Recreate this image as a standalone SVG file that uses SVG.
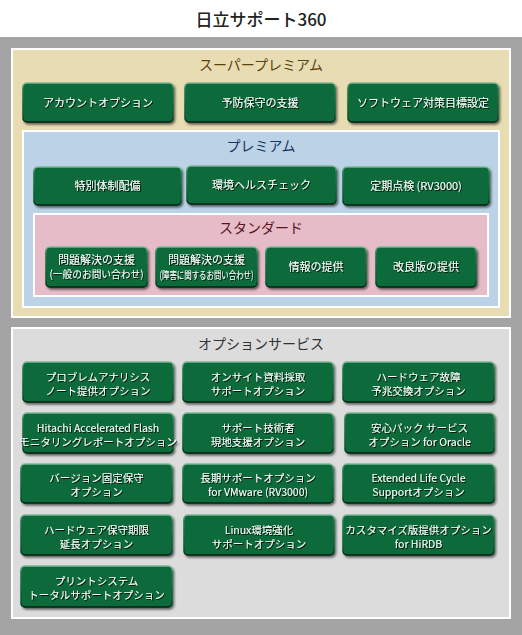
<svg xmlns="http://www.w3.org/2000/svg" width="522" height="635" viewBox="0 0 522 635">
<style>
text{font-family:"Noto Sans CJK JP","Noto Sans",sans-serif}
.title{font-size:17px;fill:#222;text-anchor:middle;font-weight:500}
.sec{font-size:14px;text-anchor:middle}
.btn rect{fill:#0e6b3a;stroke:url(#edge);stroke-width:1.5}
.btn text{font-size:10.5px;fill:#fff;text-anchor:middle;filter:url(#ts)}
.btn text.one{font-size:11px}
.sm{font-size:8.5px}
.xs{font-size:6.5px}
</style>
<defs>
<linearGradient id="edge" x1="0" y1="0" x2="0" y2="1">
<stop offset="0" stop-color="#7fb89a"/>
<stop offset="0.15" stop-color="#1e7a48"/>
<stop offset="0.85" stop-color="#0a5a30"/>
<stop offset="1" stop-color="#022012"/>
</linearGradient>
<filter id="ds" x="-10%" y="-20%" width="125%" height="150%">
<feDropShadow dx="1.5" dy="2" stdDeviation="1" flood-color="#000" flood-opacity="0.55"/>
</filter>
<filter id="ts" x="-10%" y="-30%" width="125%" height="170%">
<feDropShadow dx="1" dy="1" stdDeviation="0.6" flood-color="#000" flood-opacity="0.8"/>
</filter>
</defs>
<rect x="0" y="0" width="522" height="635" fill="#fff"/>
<text class="title" x="261" y="26">日立サポート360</text>
<rect x="0" y="37" width="522" height="598" fill="#a4a4a4"/>

<g id="super-premium">
<rect x="12" y="49" width="498" height="268" fill="#e8dcb2" stroke="#fff" stroke-width="2"/>
<text class="sec" x="261" y="70" fill="#5a4210">スーパープレミアム</text>
</g>
<g id="sp-account" class="btn" filter="url(#ds)"><rect x="23" y="83" width="150" height="39" rx="4"/><text class="one" x="98" y="106.5">アカウントオプション</text></g>
<g id="sp-yobou" class="btn" filter="url(#ds)"><rect x="185" y="83" width="150" height="39" rx="4"/><text class="one" x="260" y="106.5">予防保守の支援</text></g>
<g id="sp-software" class="btn" filter="url(#ds)"><rect x="348" y="83" width="150" height="39" rx="4"/><text class="one" x="423" y="106.5">ソフトウェア対策目標設定</text></g>

<g id="premium">
<rect x="23" y="131" width="476" height="176" fill="#bcd2e6" stroke="#fff" stroke-width="2"/>
<text class="sec" x="261" y="151" fill="#1a3460">プレミアム</text>
</g>
<g id="p-tokubetsu" class="btn" filter="url(#ds)"><rect x="34" y="167" width="147" height="38" rx="4"/><text class="one" x="107.5" y="190">特別体制配備</text></g>
<g id="p-kankyo" class="btn" filter="url(#ds)"><rect x="187" y="166" width="149" height="38" rx="4"/><text class="one" x="261.5" y="189">環境ヘルスチェック</text></g>
<g id="p-teiki" class="btn" filter="url(#ds)"><rect x="343" y="167" width="146" height="38" rx="4"/><text class="one" x="416" y="190">定期点検 (RV3000)</text></g>

<g id="standard">
<rect x="34" y="214" width="454" height="82" fill="#e6bcc8" stroke="#fff" stroke-width="2"/>
<text class="sec" x="261" y="233" fill="#5a1424">スタンダード</text>
</g>
<g id="s-mondai1" class="btn" filter="url(#ds)"><rect x="46" y="247" width="101" height="40" rx="4"/><text class="one" x="96.5" y="264">問題解決の支援</text><text class="sm" x="96.5" y="278" textLength="94" lengthAdjust="spacingAndGlyphs">(一般のお問い合わせ)</text></g>
<g id="s-mondai2" class="btn" filter="url(#ds)"><rect x="156" y="247" width="101" height="40" rx="4"/><text class="one" x="206.5" y="263.5">問題解決の支援</text><text class="xs" x="206.5" y="278.5" textLength="94" lengthAdjust="spacingAndGlyphs">(障害に関するお問い合わせ)</text></g>
<g id="s-jouhou" class="btn" filter="url(#ds)"><rect x="266" y="247" width="100" height="40" rx="4"/><text class="one" x="316" y="271">情報の提供</text></g>
<g id="s-kairyou" class="btn" filter="url(#ds)"><rect x="376" y="247" width="100" height="40" rx="4"/><text class="one" x="426" y="271">改良版の提供</text></g>

<g id="options">
<rect x="12" y="328" width="498" height="290" fill="#dcdcdc" stroke="#fff" stroke-width="2"/>
<text class="sec" x="261" y="349" fill="#333">オプションサービス</text>
</g>
<g id="o-problem" class="btn" filter="url(#ds)"><rect x="23" y="362" width="150" height="40" rx="4"/><text x="98" y="380.5">プロブレムアナリシス</text><text x="98" y="394.5">ノート提供オプション</text></g>
<g id="o-onsite" class="btn" filter="url(#ds)"><rect x="183" y="362" width="150" height="40" rx="4"/><text x="258" y="380.5">オンサイト資料採取</text><text x="258" y="394.5">サポートオプション</text></g>
<g id="o-hw-yochou" class="btn" filter="url(#ds)"><rect x="343" y="362" width="151" height="40" rx="4"/><text x="418.5" y="380.5">ハードウェア故障</text><text x="418.5" y="394.5">予兆交換オプション</text></g>

<g id="o-haf" class="btn" filter="url(#ds)"><rect x="23" y="413" width="150" height="40" rx="4"/><text x="98" y="431.5">Hitachi Accelerated Flash</text><text x="98" y="445.5">モニタリングレポートオプション</text></g>
<g id="o-gijutsusha" class="btn" filter="url(#ds)"><rect x="183" y="413" width="150" height="40" rx="4"/><text x="258" y="431.5">サポート技術者</text><text x="258" y="445.5">現地支援オプション</text></g>
<g id="o-anshin" class="btn" filter="url(#ds)"><rect x="345" y="413" width="149" height="40" rx="4"/><text x="419.5" y="431.5">安心パック サービス</text><text x="419.5" y="445.5">オプション for Oracle</text></g>

<g id="o-version" class="btn" filter="url(#ds)"><rect x="21" y="464" width="151" height="39" rx="4"/><text x="96.5" y="482">バージョン固定保守</text><text x="96.5" y="496">オプション</text></g>
<g id="o-vmware" class="btn" filter="url(#ds)"><rect x="183" y="464" width="150" height="39" rx="4"/><text x="258" y="482">長期サポートオプション</text><text x="258" y="496">for VMware (RV3000)</text></g>
<g id="o-elc" class="btn" filter="url(#ds)"><rect x="343" y="464" width="151" height="39" rx="4"/><text x="418.5" y="482">Extended Life Cycle</text><text x="418.5" y="496">Supportオプション</text></g>

<g id="o-hw-hoshu" class="btn" filter="url(#ds)"><rect x="21" y="515" width="151" height="40" rx="4"/><text x="96.5" y="533.5">ハードウェア保守期限</text><text x="96.5" y="547.5">延長オプション</text></g>
<g id="o-linux" class="btn" filter="url(#ds)"><rect x="184" y="515" width="150" height="40" rx="4"/><text x="259" y="533.5">Linux環境強化</text><text x="259" y="547.5">サポートオプション</text></g>
<g id="o-hirdb" class="btn" filter="url(#ds)"><rect x="343" y="515" width="151" height="40" rx="4"/><text x="418.5" y="533.5">カスタマイズ版提供オプション</text><text x="418.5" y="547.5">for HiRDB</text></g>

<g id="o-print" class="btn" filter="url(#ds)"><rect x="21" y="566" width="151" height="41" rx="4"/><text x="96.5" y="585">プリントシステム</text><text x="96.5" y="599">トータルサポートオプション</text></g>
</svg>
